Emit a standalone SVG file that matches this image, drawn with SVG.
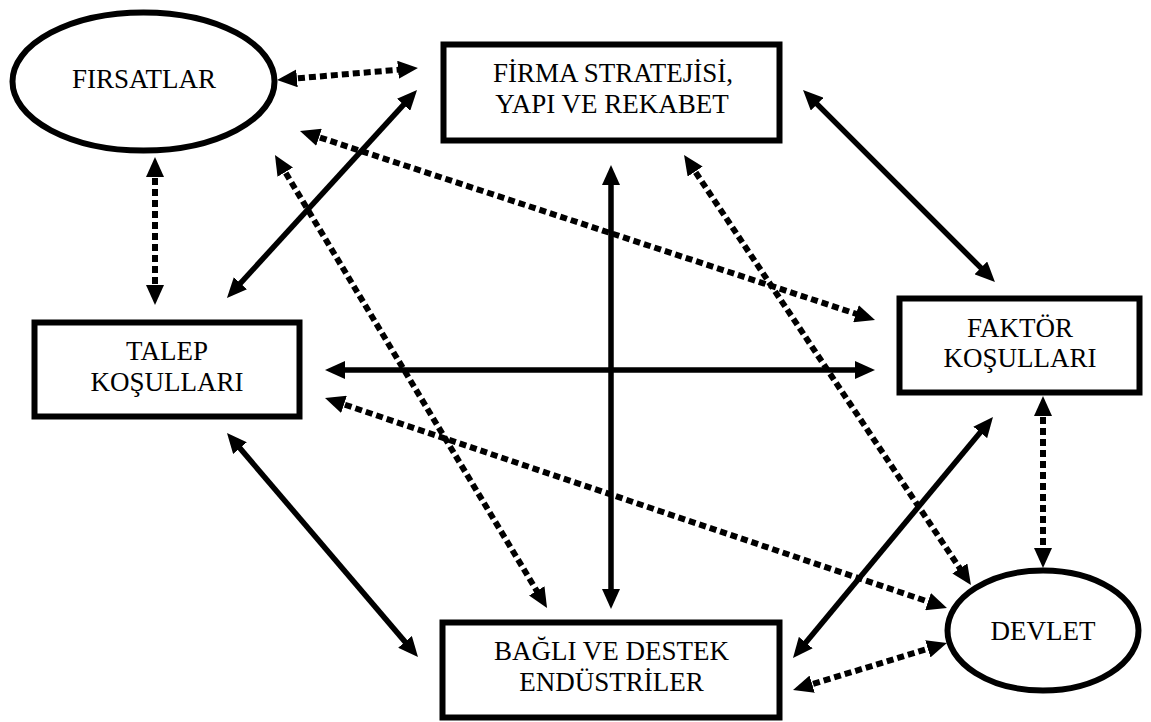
<svg xmlns="http://www.w3.org/2000/svg" width="1151" height="722" viewBox="0 0 1151 722">
  <style>
    .box { fill: #fff; stroke: #000; stroke-width: 6; }
    .label { font-family: "Liberation Serif", "Times New Roman", serif; font-size: 27px; fill: #000; text-anchor: middle; }
    .solid { stroke: #000; stroke-width: 5.5; fill: none; marker-start: url(#head); marker-end: url(#head); }
    .dotted { stroke: #000; stroke-width: 6; fill: none; stroke-dasharray: 7 4; marker-start: url(#head); marker-end: url(#head); }
  </style>
  <defs>
    <marker id="head" viewBox="0 0 20 18" refX="10" refY="9" markerWidth="20" markerHeight="18" markerUnits="userSpaceOnUse" orient="auto-start-reverse">
      <path d="M0,0 L20,9 L0,18 z" fill="#000"/>
    </marker>
  </defs>
  <rect width="1151" height="722" fill="#fff"/>

  <!-- connectors: every line stops 10px short of its arrow tips -->
  <g id="connectors">
    <line class="dotted" x1="287.0" y1="79.2" x2="408.0" y2="68.9"/>
    <line class="dotted" x1="155" y1="167" x2="155" y2="295"/>
    <line class="solid" x1="233.7" y1="290.6" x2="410.3" y2="97.4"/>
    <line class="dotted" x1="309.5" y1="134.1" x2="865.5" y2="316.9"/>
    <line class="dotted" x1="280.1" y1="163.6" x2="541.9" y2="599.4"/>
    <line class="solid" x1="611" y1="175" x2="611" y2="599"/>
    <line class="dotted" x1="689.6" y1="163.3" x2="965.4" y2="576.7"/>
    <line class="solid" x1="810.1" y1="97.1" x2="987.9" y2="274.9"/>
    <line class="solid" x1="335" y1="370" x2="865" y2="370"/>
    <line class="dotted" x1="334.5" y1="401.2" x2="937.5" y2="604.8"/>
    <line class="solid" x1="233.5" y1="440.6" x2="411.5" y2="649.4"/>
    <line class="solid" x1="799.4" y1="650.3" x2="986.6" y2="424.7"/>
    <line class="dotted" x1="1043" y1="406" x2="1043" y2="558"/>
    <line class="dotted" x1="802.6" y1="687.1" x2="937.4" y2="645.9"/>
  </g>

  <g id="firsatlar">
    <ellipse class="box" cx="143.5" cy="81.5" rx="131" ry="69"/>
    <text class="label" x="144" y="88">FIRSATLAR</text>
  </g>

  <g id="firma">
    <rect class="box" x="443.5" y="44.5" width="336" height="96"/>
    <text class="label" x="613" y="82">FİRMA STRATEJİSİ,</text>
    <text class="label" x="612" y="113">YAPI VE REKABET</text>
  </g>

  <g id="talep">
    <rect class="box" x="34.5" y="322.5" width="265" height="94"/>
    <text class="label" x="167" y="360">TALEP</text>
    <text class="label" x="167" y="391">KOŞULLARI</text>
  </g>

  <g id="faktor">
    <rect class="box" x="899.5" y="298.5" width="240" height="94"/>
    <text class="label" x="1020" y="337">FAKTÖR</text>
    <text class="label" x="1020" y="367">KOŞULLARI</text>
  </g>

  <g id="bagli">
    <rect class="box" x="442.5" y="622.5" width="337" height="95"/>
    <text class="label" x="611.5" y="660">BAĞLI VE DESTEK</text>
    <text class="label" x="611.5" y="691">ENDÜSTRİLER</text>
  </g>

  <g id="devlet">
    <ellipse class="box" cx="1043" cy="630.5" rx="95.5" ry="60"/>
    <text class="label" x="1043" y="640">DEVLET</text>
  </g>
</svg>
